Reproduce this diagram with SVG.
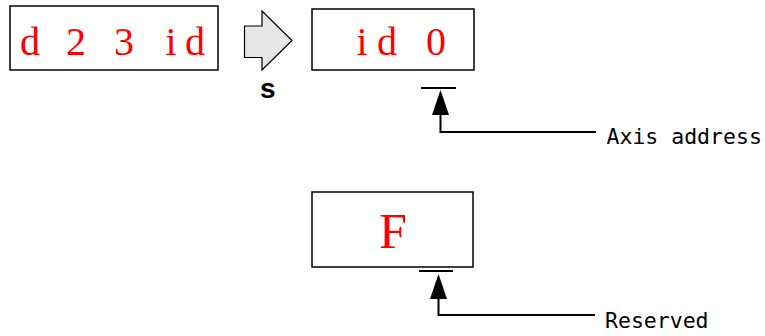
<svg xmlns="http://www.w3.org/2000/svg" width="765" height="336" viewBox="0 0 765 336">
<defs>
<style>
.box{fill:#fff;stroke:#000;stroke-width:1.5}
.red{fill:#ff0000;font-family:"Liberation Serif","Times New Roman",serif;text-anchor:middle}
.lbl{fill:#000;font-family:"DejaVu Sans Mono","Liberation Mono",monospace;font-size:21.5px}
.ln{fill:none;stroke:#000;stroke-width:2}
</style>
<marker id="ah" viewBox="0 0 25 17" refX="0" refY="8.5" markerWidth="25" markerHeight="17" markerUnits="userSpaceOnUse" orient="auto">
<path d="M0,0 L25,8.5 L0,17 Z" fill="#000"/>
</marker>
</defs>
<rect width="765" height="336" fill="#fff"/>
<g id="node-src">
<rect class="box" x="10" y="6" width="208" height="64"/>
<text class="red" font-size="40" y="55"><tspan x="30">d</tspan><tspan x="76">2</tspan><tspan x="124">3</tspan><tspan x="171">i</tspan><tspan x="195">d</tspan></text>
</g>
<g id="node-shift">
<path d="M244.5,26 L262,26 L262,11 L292,40.5 L262,70 L262,57.5 L244.5,57.5 Z" fill="#e6e6e6" stroke="#000" stroke-width="1.2"/>
<text x="260" y="98" font-family="Liberation Sans,Arial,sans-serif" font-weight="bold" font-size="28">s</text>
</g>
<g id="node-dst">
<rect class="box" x="312" y="9" width="162" height="61"/>
<text class="red" font-size="40" y="55"><tspan x="362">i</tspan><tspan x="387">d</tspan><tspan x="436">0</tspan></text>
</g>
<g id="node-f">
<rect class="box" x="312" y="192" width="161" height="75"/>
<text class="red" x="393" y="248" font-size="50">F</text>
</g>
<g id="connectors">
<line class="ln" x1="421" y1="88" x2="456" y2="88"/>
<path class="ln" d="M596,132 L440.5,132 L440.5,115" marker-end="url(#ah)"/>
<line class="ln" x1="419" y1="271" x2="453" y2="271"/>
<path class="ln" d="M595,315 L438.5,315 L438.5,299" marker-end="url(#ah)"/>
</g>
<g id="labels">
<text class="lbl" x="606.5" y="144">Axis address</text>
<text class="lbl" x="605" y="328">Reserved</text>
</g>
</svg>
